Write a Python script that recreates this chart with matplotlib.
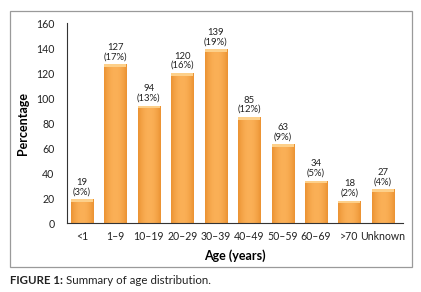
import numpy as np
import matplotlib
matplotlib.use("Agg")
import matplotlib.pyplot as plt
from matplotlib.patches import Rectangle

plt.rcParams["font.family"] = ["Lato", "DejaVu Sans"]

categories = ["<1", "1–9", "10–19", "20–29", "30–39", "40–49", "50–59", "60–69", ">70", "Unknown"]
counts = [19, 127, 94, 120, 139, 85, 63, 34, 18, 27]
shares = [3, 17, 13, 16, 19, 12, 9, 5, 2, 4]

fig = plt.figure(figsize=(4.21, 2.92), dpi=100)
fig.patches.append(Rectangle((0.024, 0.086), 0.955, 0.877, transform=fig.transFigure,
                             fill=False, edgecolor="#9A9A9A", linewidth=0.9))
ax = fig.add_axes([0.159, 0.236, 0.798, 0.685])

x = np.arange(len(categories))
bars = ax.bar(x, counts, width=0.66, color="none", edgecolor="none", zorder=2)

# horizontal shading for a rounded look
g = np.linspace(0, 1, 64)
shade = 1 - 0.55 * (2 * g - 1) ** 2
cmap = matplotlib.colors.LinearSegmentedColormap.from_list("org", ["#DE7A14", "#FBB057"])
for b in bars:
    x0, w, h = b.get_x(), b.get_width(), b.get_height()
    im = ax.imshow(shade[np.newaxis, :], cmap=cmap, vmin=0, vmax=1, aspect="auto",
                   extent=(x0, x0 + w, 0, h), zorder=2, interpolation="bicubic")
    im.set_clip_path(b)
    ax.add_patch(Rectangle((x0, h - 2.2), w, 2.2, facecolor="#FDD08A", edgecolor="none", zorder=3))

for xi, c, s in zip(x, counts, shares):
    ax.text(xi, c + 2.5, f"{c}\n({s}%)", ha="center", va="bottom", fontsize=6.8,
            linespacing=1.0, color="#222222")

ax.set_xlim(-0.45, len(categories) - 0.4)
ax.set_ylim(0, 160)
ax.set_yticks(range(0, 161, 20))
ax.set_xticks(x)
ax.set_xticklabels(categories)
ax.tick_params(axis="both", length=0, labelsize=7.6, colors="#222222")
ax.tick_params(axis="x", pad=6)
ax.tick_params(axis="y", pad=9)
for side in ["top", "right"]:
    ax.spines[side].set_visible(False)
ax.spines["left"].set_color("#333333")
ax.spines["bottom"].set_color("#333333")
ax.set_xlabel("Age (years)", fontsize=9, fontweight="bold", labelpad=5)
ax.set_ylabel("Percentage", fontsize=9, fontweight="bold", labelpad=5)

t1 = fig.text(0.024, 0.04, "FIGURE 1:", fontsize=8.3, fontweight="bold", color="#222222", va="center")
fig.canvas.draw()
bb = t1.get_window_extent().transformed(fig.transFigure.inverted())
fig.text(bb.x1 + 0.008, 0.04, "Summary of age distribution.", fontsize=8.3, color="#222222", va="center")

fig.savefig("out.png", dpi=100)
